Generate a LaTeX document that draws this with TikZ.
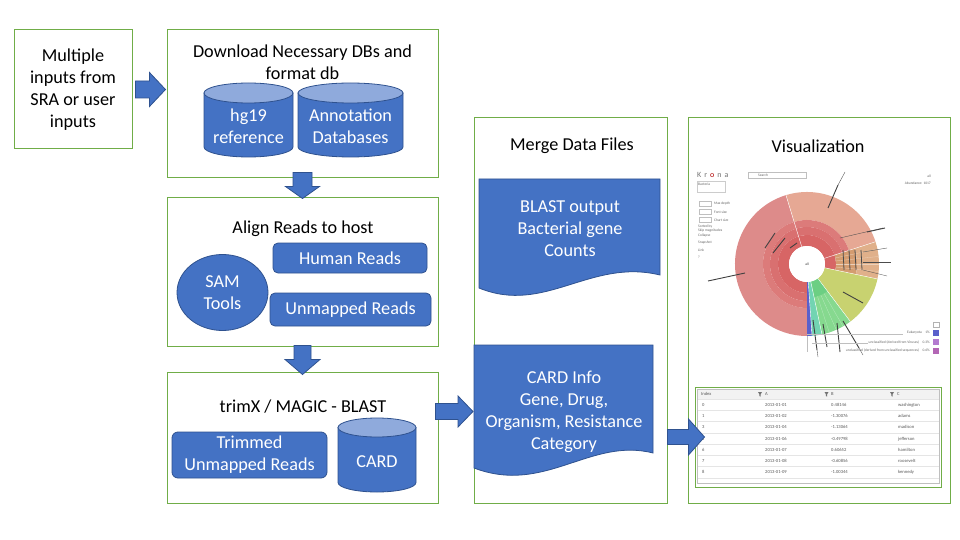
\documentclass[tikz,border=0pt]{standalone}
\usepackage{fontspec}
\setmainfont{Carlito}
\usetikzlibrary{calc,shapes.geometric}
\definecolor{boxgreen}{HTML}{70AD47}
\definecolor{mblue}{HTML}{4472C4}
\definecolor{mblueD}{HTML}{2F528F}
\definecolor{cyltop}{HTML}{8FAADC}
\definecolor{kpink}{HTML}{DD8B8A}
\definecolor{kpeach}{HTML}{E6A894}
\definecolor{kr3}{HTML}{DC7B7A}
\definecolor{kr2}{HTML}{D97070}
\definecolor{kr1}{HTML}{D76565}
\definecolor{ktanA}{HTML}{D49C70}
\definecolor{ktanB}{HTML}{E0B08A}
\definecolor{kyel}{HTML}{C8D270}
\definecolor{kgreen}{HTML}{86D98F}
\definecolor{kgreenD}{HTML}{6CCF83}
\definecolor{kteal}{HTML}{72D4B2}
\definecolor{kblue}{HTML}{5A60CB}
\definecolor{kpurp}{HTML}{B47BD0}
\definecolor{kmag}{HTML}{B366B5}
\tikzset{
  lbl/.style={font=\fontsize{18.2}{22}\selectfont, align=center, inner sep=0pt},
  wlbl/.style={lbl, text=white},
  frame/.style={draw=boxgreen, line width=1pt, fill=white, inner sep=0pt},
  bshape/.style={fill=mblue, draw=mblueD, line width=0.8pt},
  barrow/.style={fill=mblue, draw=mblueD, line width=0.8pt},
  cylb/.style={fill=mblue, draw=mblueD, line width=0.8pt},
  cylt/.style={fill=cyltop, draw=mblueD, line width=0.8pt},
  tinyt/.style={font=\fontsize{3.6}{4}\selectfont, text=black!60, inner sep=0pt},
  tcell/.style={font=\fontsize{4.6}{5}\selectfont, text=black!65, inner sep=0pt, anchor=west},
  kline/.style={black!75, line width=0.9pt},
  kthin/.style={black!70, line width=0.35pt},
}
\newcommand\rblk[5]{\filldraw[barrow] let \p1=(#1),\p2=(#2) in
  (\x1,\y1+#3) -- (\x2-#5,\y1+#3) -- (\x2-#5,\y1+#4) -- (\x2,\y1) --
  (\x2-#5,\y1-#4) -- (\x2-#5,\y1-#3) -- (\x1,\y1-#3) -- cycle;}
\newcommand\dblk[5]{\filldraw[barrow] let \p1=(#1),\p2=(#2) in
  (\x1-#3,\y1) -- (\x1-#3,\y2+#5) -- (\x1-#4,\y2+#5) -- (\x1,\y2) --
  (\x1+#4,\y2+#5) -- (\x1+#3,\y2+#5) -- (\x1+#3,\y1) -- cycle;}
\newcommand\cylshape[5]{%
  \filldraw[cylb] (#1,#3+#5) -- (#1,#4-#5) arc[start angle=180,end angle=0,x radius={(#2-#1)/2},y radius=#5] -- (#2,#3+#5) -- cycle;
  \filldraw[cylt] ({(#1+#2)/2},#3+#5) ellipse[x radius={(#2-#1)/2},y radius=#5];}
\newcommand\krs[5]{\fill[#5] (#1:#3) arc[start angle=#1,end angle=#2,radius=#3] -- (#2:#4) arc[start angle=#2,end angle=#1,radius=#4] -- cycle;}
\begin{document}
\begin{tikzpicture}[x=1pt,y=-1pt]
\useasboundingbox (0,0) rectangle (960,540);
\fill[white] (0,0) rectangle (960,540);

% frames
\node[frame, minimum width=118pt, minimum height=119pt] (in) at (73,89.5) {};
\node[frame, minimum width=271pt, minimum height=148pt] (dl) at (302.5,104) {};
\node[frame, minimum width=271pt, minimum height=149pt] (al) at (302.5,271.5) {};
\node[frame, minimum width=271pt, minimum height=131pt] (tr) at (302.5,437.5) {};
\node[frame, minimum width=193pt, minimum height=385pt] (mg) at (570.5,310.5) {};
\node[frame, minimum width=262pt, minimum height=385pt] (vz) at (819,310.5) {};

% titles
\node[lbl] (intxt) at (73,90) {Multiple\\inputs from\\SRA or user\\inputs};
\node[lbl] (dltitle) at (302.5,62) {Download Necessary DBs and\\format db};
\node[lbl] (altitle) at (303,229) {Align Reads to host};
\node[lbl] (trtitle) at (303,407) {trimX / MAGIC - BLAST};
\node[lbl] (mgtitle) at (572,146) {Merge Data Files};
\node[lbl] (vztitle) at (818,146) {Visualization};

% databases
\cylshape{204}{293}{83}{157}{10}
\node[wlbl] (hg) at (248.5,126) {hg19\\reference};
\cylshape{298}{403}{83}{157}{10}
\node[wlbl] (ann) at (350.5,126) {Annotation\\Databases};

% align
\node[bshape, ellipse, minimum width=91pt, minimum height=76pt, wlbl] (sam) at (222.5,292.5) {SAM\\Tools};
\node[bshape, rounded corners=5pt, minimum width=154pt, minimum height=30pt, wlbl] (hum) at (350,258) {Human Reads};
\node[bshape, rounded corners=5pt, minimum width=161pt, minimum height=33pt, wlbl] (unm) at (350.5,309.5) {Unmapped Reads};

% trim
\node[bshape, rounded corners=6pt, minimum width=155pt, minimum height=46pt, wlbl] (trim) at (249.5,455) {Trimmed\\Unmapped Reads};
\cylshape{338}{416}{418}{492}{9.5}
\node[wlbl] (card) at (377,462) {CARD};

% merge documents
\filldraw[bshape] (479,179) -- (660,179) -- (660,275) .. controls (590,258) and (545,315) .. (479,288) -- cycle;
\node[wlbl] (blast) at (570,229) {BLAST output\\Bacterial gene\\Counts};
\filldraw[bshape] (474,345) -- (653,345) -- (653,453) .. controls (590,437) and (545,495) .. (474,468) -- cycle;
\node[wlbl] (cinfo) at (564,411.5) {CARD Info\\Gene, Drug,\\Organism, Resistance\\Category};
\coordinate (cinfoL) at (474,411.5);

% table
\node[draw=boxgreen, line width=1pt, fill=white, minimum width=246pt, minimum height=100pt, inner sep=0pt] (tbl) at (818,437) {};
\fill[black!5] (697,389) rectangle (939,399);
\foreach \yy in {399,410.5,421.5,433,444.5,455.5,466.5,478}
  \draw[black!10, line width=0.3pt] (697,\yy) -- (939,\yy);
\draw[black!25, line width=0.4pt] (697,389) rectangle (939,483);
\node[tcell] (thI) at (701,394) {Index};
\node[tcell] (thA) at (765,394) {A};
\node[tcell] (thB) at (831,394) {B};
\node[tcell] (thC) at (897,394) {C};
\foreach \fx in {760,826.5,892}
  \fill[black!55] (\fx-2,392) -- (\fx+2,392) -- (\fx+0.6,394.3) -- (\fx+0.6,396.6) -- (\fx-0.6,396) -- (\fx-0.6,394.3) -- cycle;
\foreach \yy/\ii/\dd/\bb/\cc [count=\n] in {
  405/0/2013-01-01/0.48146/washington,
  416/1/2013-01-02/-1.30076/adams,
  427/3/2013-01-04/-1.13064/madison,
  439/5/2013-01-06/-0.49798/jefferson,
  450/6/2013-01-07/0.60652/hamilton,
  461/7/2013-01-08/-0.60856/roosevelt,
  472/8/2013-01-09/-1.00344/kennedy}{
  \node[tcell] (ti\n) at (702,\yy) {\ii};
  \node[tcell] (ta\n) at (765,\yy) {\dd};
  \node[tcell] (tb\n) at (831,\yy) {\bb};
  \node[tcell] (tc\n) at (898,\yy) {\cc};
}

% Krona chart
\begin{scope}[shift={(807,264)},x=1pt,y=1pt]
  \krs{107}{270}{72}{44}{kpink}
  \krs{18}{107}{72}{44}{kpeach}
  \krs{18}{270}{44}{37}{kr3}
  \krs{18}{270}{37}{29}{kr2}
  \krs{-12}{270}{29}{18}{kr1}
  \krs{-12}{18}{50}{29}{ktanA}
  \krs{-12}{18}{72}{50}{ktanB}
  \krs{-53}{-12}{72}{18}{kyel}
  \krs{-78}{-53}{72}{18}{kgreen}
  \krs{-78}{-53}{34}{18}{kgreenD}
  \krs{-86}{-78}{72}{18}{kteal}
  \krs{-90}{-86}{72}{18}{kblue}
  \foreach \aa in {107,18,-12,-53,-78,-86}
    \draw[white, line width=0.4pt] (\aa:18) -- (\aa:72);
  \foreach \aa in {12,6,0,-6}
    \draw[ktanB!60!white, line width=0.3pt] (\aa:29) -- (\aa:72);
  \foreach \aa in {-60,-66,-72}
    \draw[kgreen!60!white, line width=0.3pt] (\aa:34) -- (\aa:72);
  \fill[white] (0,0) circle (18);
  \node[tinyt, text=black!80] (kall) at (0,0) {all};
  % labels drawn as strokes
  \draw[kline] (21,56) -- (31,79);
  \draw[kthin] (31,79) -- (38,92);
  \draw[kline] (-99,-17) -- (-62,-9);
  \draw[kline] (-42,16) -- (-32,31);
  \draw[kline] (-34,11) -- (-22,26);
  \draw[kline] (-17,16) -- (-10,21);
  \foreach \xx in {36,42,48,54}
    \draw[black!70, line width=0.8pt] (\xx,14) -- (\xx+1,-6);
  \draw[kthin] (33,26) -- (76,36);
  \draw[kline] (60,32) -- (78,36);
  \draw[kthin] (56,12) -- (80,16);
  \draw[kthin] (56,2) -- (84,2);
  \draw[kthin] (56,-6) -- (80,-12);
  \draw[kline] (36,-28) -- (56,-39);
  \draw[kline] (6,-56) -- (10,-86);
  \draw[kthin] (10,-86) -- (11,-93);
  \draw[kline] (16,-60) -- (20,-83);
  \draw[kline] (30,-59) -- (33,-88);
  \draw[kline] (36,-57) -- (52,-84);
  \draw[kthin] (52,-84) -- (56,-91);
\end{scope}

% Krona legend
\draw[black!25, line width=0.3pt] (807,334.5) -- (903,334.5);
\draw[black!25, line width=0.3pt] (812,343) -- (868,343);
\draw[black!25, line width=0.3pt] (807,336) -- (807,352);
\draw[black!30, line width=0.3pt] (933,322) rectangle (939,327);
\fill[kblue] (933,330) rectangle (939,336);
\fill[kpurp] (933,339) rectangle (939,345);
\fill[kmag] (933,348) rectangle (939,353.5);
\node[tinyt, anchor=east] (lg1) at (930,333) {Eukaryota\quad 1\%};
\node[tinyt, anchor=east] (lg2) at (930,342) {unclassified (derived from Viruses)\quad 0.3\%};
\node[tinyt, anchor=east] (lg3) at (930,350.5) {unclassified (derived from unclassified sequences)\quad 0.6\%};

% Krona user interface
\node[font=\fontsize{8}{9}\selectfont, text=black!55, inner sep=0pt, anchor=west] (klogo) at (697,175) {K\hspace{3pt}r\hspace{3pt}\textcolor{red!70!black}{o}\hspace{3pt}n\hspace{3pt}a};
\draw[black!20, line width=0.3pt] (697,181) rectangle (725,192);
\node[tinyt, anchor=west] (ksel) at (698,184) {Bacteria};
\draw[black!25, line width=0.3pt] (748,172) rectangle (806,178);
\node[tinyt, anchor=west] (ksearch) at (758,175) {Search};
\node[tinyt, anchor=east] (ktop) at (931,176) {all};
\node[tinyt, anchor=east] (kabund) at (931,183) {Abundance: 1017};
\foreach \yy/\tt [count=\n] in {204/Max depth,212/Font size,220/Chart size}{
  \draw[black!25, line width=0.3pt] (699,\yy-2.5) rectangle (711,\yy+2.5);
  \node[tinyt, anchor=west] (kc\n) at (714,\yy) {\tt};
}
\node[tinyt, anchor=west] (ks1) at (698,227) {Sorted by};
\node[tinyt, anchor=west] (ks2) at (698,231) {Skip magnitudes};
\node[tinyt, anchor=west] (ks3) at (698,236) {Collapse};
\node[tinyt, anchor=west] (ks4) at (698,243) {Snapshot};
\node[tinyt, anchor=west] (ks5) at (698,250) {Link};
\node[tinyt, anchor=west] (ks6) at (698,257) {?};

% block arrows
\rblk{[xshift=3pt]in.east}{[xshift=-1pt]dl.west}{8.5pt}{17pt}{16pt}
\dblk{[yshift=6pt]dl.south}{[yshift=-2pt]al.north}{9.5pt}{17pt}{12pt}
\dblk{[yshift=1pt]al.south}{[yshift=-3pt]tr.north}{8.5pt}{17.5pt}{15pt}
\rblk{$(tr.east |- cinfoL)+(-3,0)$}{$(cinfoL)+(-1,0)$}{8pt}{15.5pt}{15pt}
\rblk{mg.east |- tbl.west}{$(tbl.west)+(10,0)$}{7.5pt}{18pt}{16pt}
\end{tikzpicture}
\end{document}
